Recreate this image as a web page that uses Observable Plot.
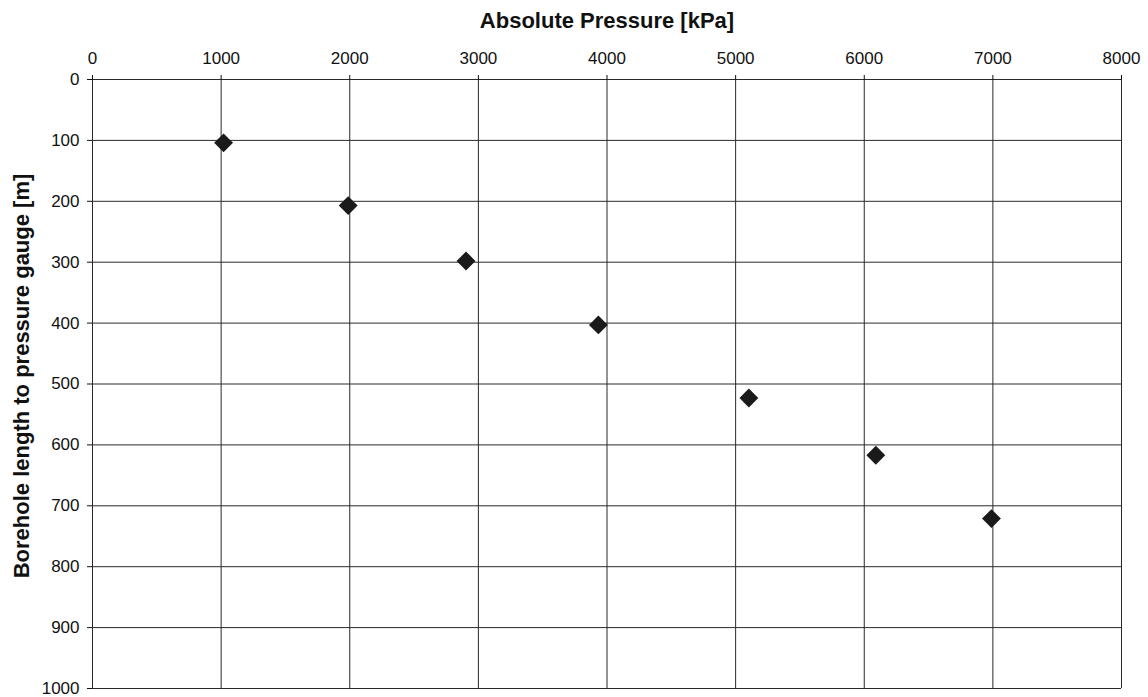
<!DOCTYPE html>
<html>
<head>
<meta charset="utf-8">
<script src="https://cdn.jsdelivr.net/npm/d3@7"></script>
<script src="https://cdn.jsdelivr.net/npm/@observablehq/plot@0.6"></script>
<style>
  html, body { margin: 0; padding: 0; background: #fff; }
  #chart { width: 1148px; height: 697px; }
  svg { font-family: "Liberation Sans", Arial, sans-serif; }
</style>
</head>
<body>
<div id="chart"></div>
<script>
// Data
const pressureKPa = [1019, 1988, 2904, 3933, 5103, 6090, 6989];
const boreholeLengthM = [104, 207, 298, 403, 523, 617, 721];
const xTicks = [0, 1000, 2000, 3000, 4000, 5000, 6000, 7000, 8000];
const yTicks = [0, 100, 200, 300, 400, 500, 600, 700, 800, 900, 1000];
const xTitle = "Absolute Pressure [kPa]";
const yTitle = "Borehole length to pressure gauge [m]";

const data = pressureKPa.map((p, i) => ({ p, d: boreholeLengthM[i] }));

const chart = Plot.plot({
  width: 1148,
  height: 697,
  marginLeft: 92,
  marginRight: 27,
  marginTop: 79,
  marginBottom: 9,
  style: { fontFamily: "'Liberation Sans', Arial, sans-serif", fontSize: "17px", color: "#111", background: "#fff" },
  x: { domain: [0, 8000], axis: null },
  y: { domain: [0, 1000], reverse: true, axis: null },
  marks: [
    Plot.gridX(xTicks, { stroke: "#2a2a2a", strokeOpacity: 1, strokeWidth: 1 }),
    Plot.gridY(yTicks, { stroke: "#2a2a2a", strokeOpacity: 1, strokeWidth: 1 }),
    Plot.axisX(xTicks, { anchor: "top", tickSize: 5, tickPadding: 11, label: null, fontSize: 17, stroke: "#111", tickFormat: d => String(d) }),
    Plot.axisY(yTicks, { anchor: "left", tickSize: 5, tickPadding: 8, label: null, fontSize: 17, stroke: "#111", tickFormat: d => String(d) }),
    Plot.dot(data, { x: "p", y: "d", symbol: "diamond2", r: 8.5, fill: "#1a1a1a", stroke: "none" }),
    Plot.text([xTitle], { frameAnchor: "top", lineAnchor: "middle", dy: -59, text: d => d, fontSize: 22, fontWeight: "bold", fill: "#111" }),
    Plot.text([yTitle], { frameAnchor: "left", textAnchor: "middle", lineAnchor: "middle", dx: -71, dy: -8, rotate: -90, text: d => d, fontSize: 22, fontWeight: "bold", fill: "#111" })
  ]
});
document.getElementById("chart").appendChild(chart);
</script>
</body>
</html>
